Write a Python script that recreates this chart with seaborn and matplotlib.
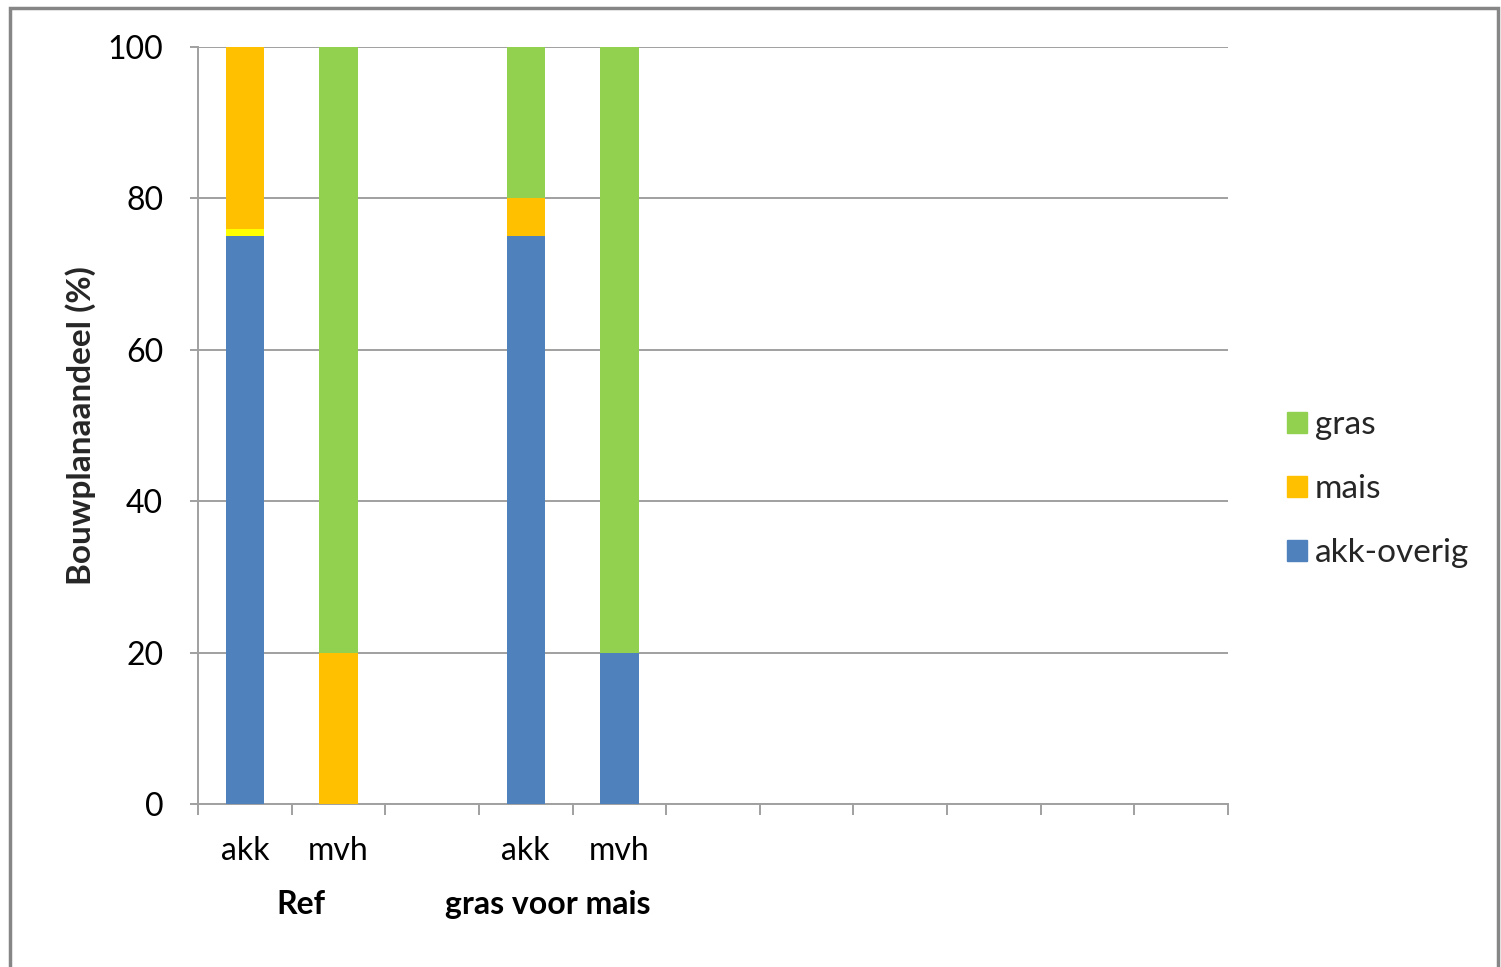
import numpy as np
import pandas as pd
import matplotlib
matplotlib.use("Agg")
import matplotlib.pyplot as plt
import matplotlib.transforms as mtransforms
from matplotlib.patches import Rectangle
import seaborn as sns

# Data: crop share per farm type and scenario (%)
scenarios = ["Ref", "Ref", "gras voor mais", "gras voor mais"]
farm_types = ["akk", "mvh", "akk", "mvh"]
slot_positions = [0.5, 1.5, 3.5, 4.5]
akk_overig = [75, 0, 75, 20]
overig_geel = [1, 0, 0, 0]
mais = [24, 20, 5, 0]
gras = [0, 80, 20, 80]
n_slots = 11

series = [("akk-overig", akk_overig, "#4F81BD"),
          ("overig", overig_geel, "#FFFF00"),
          ("mais", mais, "#FFC000"),
          ("gras", gras, "#92D050")]

sns.set_theme(style="white")
plt.rcParams["font.family"] = ["Lato", "DejaVu Sans"]

fig = plt.figure(figsize=(15.01, 9.67), dpi=100)
ax = fig.add_axes([198 / 1501, 1 - 804 / 967, (1228 - 198) / 1501, (804 - 47) / 967])

df = pd.DataFrame({"pos": slot_positions})
cum = np.zeros(len(slot_positions))
for name, vals, col in series:
    cum = cum + np.array(vals, dtype=float)
    df[name] = cum.copy()

# draw stacks from the top down so lower segments overlay higher totals
for name, vals, col in reversed(series):
    sns.barplot(data=df, x="pos", y=name, native_scale=True, color=col,
                width=0.41, saturation=1, ax=ax, zorder=3, linewidth=0)

ax.set_xlim(0, n_slots)
ax.set_ylim(0, 100)
ax.set_yticks([0, 20, 40, 60, 80, 100])
ax.set_xticks(np.arange(0, n_slots + 1))
ax.set_xticklabels([])
ax.set_xlabel("")
ax.set_ylabel("Bouwplanaandeel (%)", fontsize=24, fontweight="bold")
ax.yaxis.set_label_coords(-0.099, 0.5)
ax.yaxis.grid(True, color="#A0A0A0", linewidth=1.4, zorder=0)
ax.set_axisbelow(True)
for s in ["top", "right"]:
    ax.spines[s].set_visible(False)
for s in ["left", "bottom"]:
    ax.spines[s].set_color("#A0A0A0")
    ax.spines[s].set_linewidth(1.4)
ax.tick_params(axis="y", which="both", left=True, length=6, width=1.4,
               color="#A0A0A0", labelsize=23, pad=19, labelcolor="#000000")
ax.tick_params(axis="x", which="both", bottom=True, length=8, width=1.4,
               color="#A0A0A0")

# category and group labels below the axis
trans = mtransforms.blended_transform_factory(ax.transData, ax.transAxes)
for x, ft in zip(slot_positions, farm_types):
    ax.text(x, -0.062, ft, transform=trans, ha="center", va="center",
            fontsize=23, color="#000000")
group_names = ["Ref", "gras voor mais"]
group_label_x = [1.1, 3.74]
for x, sc in zip(group_label_x, group_names):
    ax.text(x, -0.133, sc, transform=trans, ha="center", va="center",
            fontsize=23, fontweight="bold", color="#000000")

# legend
handles = [Rectangle((0, 0), 1, 1, color=c) for n, v, c in series if n != "overig"][::-1]
labels = [n for n, v, c in series if n != "overig"][::-1]
fig.legend(handles, labels, loc="center left", bbox_to_anchor=(1270 / 1501, 1 - 489 / 967),
           frameon=False, fontsize=24, handlelength=0.6, handleheight=0.6,
           handletextpad=0.25, labelspacing=1.02, borderpad=0)

# outer chart frame
fig.add_artist(Rectangle((10 / 1501, -0.05), 1488 / 1501, 1.05 - 8 / 967,
                         transform=fig.transFigure, fill=False,
                         edgecolor="#868686", linewidth=2.5))

fig.savefig("out.png", dpi=100, facecolor="white")
